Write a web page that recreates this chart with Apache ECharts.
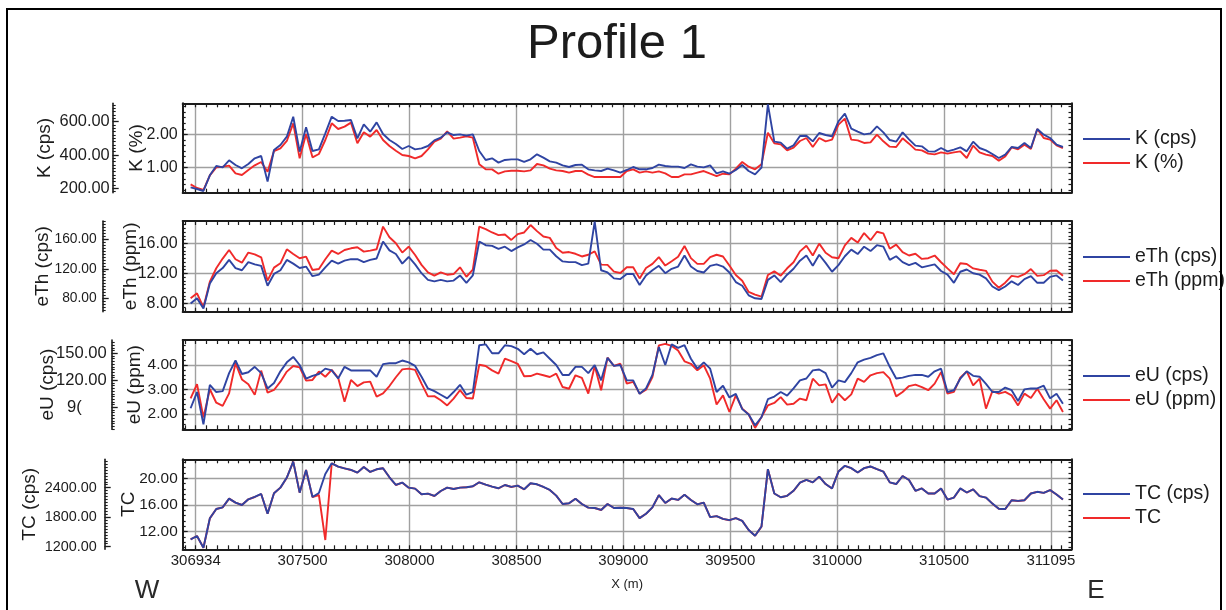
<!DOCTYPE html>
<html>
<head>
<meta charset="utf-8">
<script src="https://cdn.jsdelivr.net/npm/echarts@6/dist/echarts.min.js"></script>
<style>html,body{margin:0;padding:0;background:#fff}#chart{width:1226px;height:610px}</style>
</head>
<body>
<div id="chart"></div>
<script>
// ---------------- DATA ----------------
// survey stations along the profile (m), one every 30 m
const stationStart = 306976, stationStep = 30, stationCount = 137;
const stations = Array.from({length: stationCount}, (_, i) => stationStart + stationStep * i);

const kCps = [206,196,184,278,334,326,368,340,320,346,380,394,240,430,460,510,630,420,566,424,434,530,630,604,606,610,500,584,540,596,526,490,466,436,454,434,440,
454,488,504,536,520,524,516,524,424,370,380,354,370,374,374,358,374,404,384,362,354,338,328,340,342,314,308,304,318,308,294,310,328,314,314,322,342,334,330,330,322,344,330,326,338,290,302,288,310,340,304,284,324,704,480,474,438,458,514,
516,482,532,520,512,602,648,558,540,524,530,572,536,490,480,536,494,456,452,422,420,442,422,432,446,422,480,442,428,406,382,402,448,442,472,442,556,522,502,462,448];
const kPct = [0.50,0.39,0.33,0.77,1.01,1.03,1.06,0.83,0.78,0.93,1.07,1.17,0.88,1.50,1.58,1.80,2.33,1.28,2.01,1.31,1.41,1.83,2.33,2.16,2.23,2.35,1.73,2.06,1.93,2.13,1.83,1.65,1.51,1.38,1.35,1.28,1.35,
1.55,1.78,1.87,2.09,1.87,1.90,1.94,1.90,1.10,0.95,0.95,0.82,0.89,0.91,0.91,0.89,0.92,1.11,1.07,0.97,0.92,0.90,0.85,0.90,0.90,0.79,0.72,0.72,0.72,0.72,0.72,0.90,0.95,0.85,0.89,0.85,0.89,0.83,0.72,0.72,0.80,0.80,0.85,0.90,0.82,0.75,0.82,0.80,0.97,1.17,1.03,0.95,1.10,2.05,1.73,1.70,1.52,1.60,1.80,
1.89,1.62,1.89,1.79,1.84,2.29,2.47,1.84,1.82,1.74,1.76,1.99,1.79,1.63,1.62,1.88,1.72,1.54,1.52,1.42,1.40,1.46,1.42,1.46,1.49,1.29,1.66,1.46,1.39,1.35,1.21,1.34,1.61,1.55,1.69,1.56,2.16,1.89,1.84,1.67,1.59];

const eThCps = [73,80,66,100,114,121,132,121,118,129,126,124,97,113,118,132,127,121,123,110,112,122,131,127,131,133,133,129,132,134,157,145,140,127,136,126,
114,105,103,105,103,104,111,101,111,157,152,151,147,150,144,149,153,159,154,146,146,137,130,129,129,125,127,184,118,115,107,106,113,113,98,111,118,124,114,120,123,138,123,117,115,124,126,123,115,102,97,84,80,79,105,111,102,112,120,131,138,124,139,
128,116,125,137,146,140,150,144,152,150,132,137,129,125,128,122,124,126,117,112,101,116,119,114,112,107,96,91,96,103,98,106,110,101,101,109,111,104];
const eThPpm = [8.67,9.33,7.47,10.89,12.67,13.96,15.11,13.87,13.42,14.76,14.53,14.13,11.02,12.76,13.33,15.20,14.58,14.00,14.22,12.44,12.58,13.87,15.02,14.58,15.11,15.33,15.47,14.89,15.02,15.20,18.22,16.80,16.00,14.76,15.56,14.44,
13.12,12.13,11.68,12.13,11.81,11.90,12.80,11.54,12.49,18.21,17.89,17.44,17.08,17.17,16.45,17.22,17.44,18.43,17.62,16.90,16.72,15.37,14.74,14.83,14.60,14.24,14.47,14.92,13.16,13.12,12.22,12.04,12.80,12.80,11.32,12.71,13.25,14.15,13.03,13.61,14.20,15.64,14.02,13.25,13.25,14.15,14.47,14.24,13.03,11.77,11.00,9.51,9.15,8.88,11.77,12.26,11.68,12.67,13.48,14.92,15.68,14.38,15.95,
14.73,14.14,14.01,15.73,16.72,16.09,17.36,16.41,17.54,17.31,15.28,15.82,14.82,14.37,14.60,13.92,14.01,14.37,13.47,12.65,11.88,13.33,13.24,12.65,12.47,12.33,10.89,10.07,10.75,11.66,11.52,11.88,12.56,11.66,11.75,12.33,12.38,11.66];

const eUCps = [89,107,71,115,107,108,128,142,127,129,135,128,111,117,130,140,146,137,122,125,127,133,131,122,135,131,131,131,131,124,138,139,139,142,140,136,
124,111,108,104,100,107,115,104,107,159,160,150,150,159,158,155,149,155,149,151,144,137,126,126,135,135,128,137,120,145,136,137,120,120,105,111,126,157,137,160,156,159,144,133,140,133,107,114,101,105,88,82,70,79,99,102,107,103,111,120,122,131,132,
128,112,120,118,128,140,143,145,148,150,135,122,123,125,126,126,124,130,133,107,109,122,130,125,124,116,107,107,112,109,97,110,111,111,114,100,105,94];
const eUPpm = [2.64,3.22,1.86,3.01,2.46,2.33,2.84,4.07,3.41,3.21,2.78,3.77,2.87,2.98,3.32,3.73,3.96,3.90,3.36,3.39,3.73,3.52,3.80,3.48,2.50,3.39,3.14,3.29,3.32,2.71,2.84,3.14,3.50,3.82,3.85,3.80,
3.24,2.72,2.73,2.56,2.35,2.63,2.97,2.65,2.63,4.01,3.96,3.78,3.65,4.26,4.16,4.05,3.54,3.55,3.65,3.58,3.51,3.65,3.10,3.03,3.58,3.47,2.83,3.96,2.97,4.30,3.96,4.05,3.24,3.31,2.83,2.99,3.51,4.80,4.86,4.78,4.59,4.15,4.05,3.78,3.99,3.44,2.39,2.76,2.08,2.76,2.22,1.99,1.43,1.88,2.35,2.45,2.69,2.38,2.42,2.63,2.56,3.44,3.17,
3.21,2.46,2.83,2.56,2.80,3.44,3.31,3.58,3.67,3.71,3.44,2.72,2.90,3.14,3.20,3.10,2.97,3.24,3.71,2.83,2.90,3.48,3.74,3.17,3.44,2.22,2.93,2.83,2.90,2.76,2.35,2.83,2.65,3.03,2.60,2.22,2.56,2.08];

const tcCps = [1350,1418,1180,1777,1967,2001,2177,2096,2048,2164,2211,2272,1872,2286,2401,2605,2930,2299,2761,2211,2293,2679,2896,2828,2794,2761,2706,2822,2720,2774,2794,2611,2455,2503,2401,2381,2265,2279,2232,2333,2401,2374,2401,2408,2428,2510,2462,2421,2388,2455,2415,2442,2367,2489,2469,2415,2354,2238,2069,2082,2177,2069,1994,1987,1947,2069,1987,
1993,1986,1966,1781,1869,2001,2248,2089,2179,2151,2255,2151,2062,2096,1802,1822,1766,1739,1781,1725,1540,1423,1609,2777,2282,2206,2234,2337,2501,2557,2508,2625,2474,2385,2728,2845,2797,2708,2797,2831,2777,2728,2508,2474,2638,2557,2337,2385,2282,2282,2385,2158,2199,2385,2302,2364,2227,2199,2076,1972,1966,2145,2131,2145,2282,2316,2295,2351,2261,2158];
const tc = [10.85,11.35,9.60,14.00,15.40,15.65,16.95,16.35,16.00,16.85,17.20,17.65,14.70,17.75,18.60,20.10,22.50,17.85,21.25,17.20,17.50,10.75,22.25,21.75,21.50,21.25,20.85,21.70,20.95,21.35,21.50,20.15,19.00,19.35,18.60,18.45,17.60,17.70,17.35,18.10,18.60,18.40,18.60,18.65,18.80,19.40,19.05,18.75,18.50,19.00,18.70,18.90,18.35,19.25,19.10,18.70,18.25,17.40,16.15,16.25,16.95,16.15,15.60,15.55,15.25,16.15,15.55,
15.59,15.54,15.39,14.03,14.68,15.65,17.47,16.30,16.96,16.76,17.52,16.76,16.10,16.35,14.18,14.33,13.92,13.72,14.03,13.62,12.25,11.39,12.76,21.37,17.72,17.16,17.37,18.13,19.34,19.75,19.39,20.25,19.14,18.48,21.01,21.87,21.52,20.86,21.52,21.77,21.37,21.01,19.39,19.14,20.35,19.75,18.13,18.48,17.72,17.72,18.48,16.81,17.11,18.48,17.87,18.33,17.32,17.11,16.20,15.44,15.39,16.71,16.61,16.71,17.72,17.97,17.82,18.23,17.57,16.81];

// tick labels
const xGridValues = [307000, 307500, 308000, 308500, 309000, 309500, 310000, 310500, 311000];
const xTickLabels = ['306934', '307500', '308000', '308500', '309000', '309500', '310000', '310500', '311095'];
const kPctTicks = [1, 2], kCpsTicks = [200, 400, 600];
const eThPpmTicks = [8, 12, 16], eThCpsTicks = [80, 120, 160];
const eUPpmTicks = [2, 3, 4], eUCpsTicks = [90, 120, 150];
const tcTicks = [12, 16, 20], tcCpsTicks = [1200, 1800, 2400];
const eUCpsTickText = ['9(', '120.00', '150.00'];   // the 90 label is clipped in the original

// ---------------- LAYOUT / STYLE ----------------
const FONT = "'Liberation Sans', Arial, Helvetica, sans-serif";
const BLUE = '#2f44a2', RED = '#f02a2a', GRIDC = '#a0a0a0', INK = '#1c1c1c';
const X_MIN = 306939, X_MAX = 311096;
const GRID_LEFT = 182.7, GRID_RIGHT = 1226 - 1071.5;

function steps(a, b, s) {
  const r = [];
  for (let k = Math.ceil(a / s - 1e-9); k * s <= b + 1e-9; k++) r.push(+(k * s).toFixed(6));
  return r;
}
const xMinor = steps(X_MIN, X_MAX, 50);

const panels = [
  { top: 103.3, height: 89.4, legendTop: 129,
    inner: { min: 0.25, max: 2.93, ticks: kPctTicks, minor: 1 / 6, name: 'K (%)', gap: 36, font: 16 },
    outer: { min: 173.6, max: 710.5, ticks: kCpsTicks, minor: 20, name: 'K (cps)', gap: 58, offset: 70, margin: 3, font: 16.4 },
    blueName: 'K (cps)', redName: 'K (%)', blue: kCps, red: kPct },
  { top: 221, height: 90.7, legendTop: 247,
    inner: { min: 6.88, max: 18.97, ticks: eThPpmTicks, minor: 0.5, name: 'eTh (ppm)', gap: 42, font: 16 },
    outer: { min: 61.8, max: 184.8, ticks: eThCpsTicks, minor: 4, name: 'eTh (cps)', gap: 50, offset: 80, margin: 6, font: 13.8 },
    blueName: 'eTh (cps)', redName: 'eTh (ppm)', blue: eThCps, red: eThPpm },
  { top: 340, height: 89.3, legendTop: 366,
    inner: { min: 1.375, max: 5.02, ticks: eUPpmTicks, minor: 0.2, name: 'eU (ppm)', gap: 38, font: 15.5 },
    outer: { min: 65.6, max: 164.8, ticks: eUCpsTicks, minor: 3, name: 'eU (cps)', gap: 54, offset: 71, margin: 5, font: 16.6, text: eUCpsTickText },
    blueName: 'eU (cps)', redName: 'eU (ppm)', blue: eUCps, red: eUPpm },
  { top: 459.3, height: 90, legendTop: 484,
    inner: { min: 9.36, max: 22.85, ticks: tcTicks, minor: 0.8, name: 'TC', gap: 44, font: 15.4 },
    outer: { min: 1147, max: 2977, ticks: tcCpsTicks, minor: 60, name: 'TC (cps)', gap: 65, offset: 78, margin: 8, font: 14.4 },
    blueName: 'TC (cps)', redName: 'TC', blue: tcCps, red: tc }
];

const grids = [], xAxes = [], yAxes = [], series = [], legends = [];
const lineInk = w => ({ show: true, onZero: false, lineStyle: { color: INK, width: w } });
const nameStyle = { color: INK, fontSize: 19, fontFamily: FONT };

function outerLabel(p) {
  return function (v) {
    const idx = p.outer.ticks.findIndex(t => Math.abs(t - Number(v)) < 1e-6);
    if (p.outer.text && idx >= 0 && p.outer.text[idx] === '9(') return '{c|9(}';
    return Number(v).toFixed(2);
  };
}

panels.forEach((p, k) => {
  grids.push({ left: GRID_LEFT, right: GRID_RIGHT, top: p.top, height: p.height, containLabel: false, outerBoundsMode: 'none' });
  const xBase = { gridIndex: k, type: 'value', min: X_MIN, max: X_MAX };
  xAxes.push(
    Object.assign({}, xBase, {
      position: 'bottom', axisLine: lineInk(2),
      axisTick: { show: true, inside: true, length: 4, customValues: xMinor, lineStyle: { color: INK, width: 1.2 } },
      axisLabel: { show: k === 3, customValues: xGridValues, margin: 4, color: INK, fontSize: 15, fontFamily: FONT,
        formatter: v => xTickLabels[xGridValues.indexOf(v)] },
      splitLine: { show: false },
      name: k === 3 ? 'X (m)' : '', nameLocation: 'middle', nameGap: 29, nameMoveOverlap: false,
      nameTextStyle: { color: INK, fontSize: 13, fontFamily: FONT }
    }),
    Object.assign({}, xBase, {
      position: 'top', axisLine: lineInk(2),
      axisTick: { show: true, inside: true, length: 4, customValues: xMinor, lineStyle: { color: INK, width: 1.2 } },
      axisLabel: { show: false }, splitLine: { show: false }
    }),
    Object.assign({}, xBase, {
      position: 'bottom', axisLine: { show: false },
      axisTick: { show: false, customValues: xGridValues },
      axisLabel: { show: false },
      splitLine: { show: true, lineStyle: { color: GRIDC, width: 1.4 } }
    })
  );
  const inMin = steps(p.inner.min, p.inner.max, p.inner.minor);
  const outMin = steps(p.outer.min, p.outer.max, p.outer.minor);
  const iBase = { gridIndex: k, type: 'value', min: p.inner.min, max: p.inner.max };
  const oBase = { gridIndex: k, type: 'value', min: p.outer.min, max: p.outer.max, position: 'left', offset: p.outer.offset };
  yAxes.push(
    Object.assign({}, iBase, {
      position: 'left', axisLine: lineInk(2),
      axisTick: { show: true, inside: true, length: 5, customValues: p.inner.ticks, lineStyle: { color: INK, width: 1.2 } },
      axisLabel: { customValues: p.inner.ticks, margin: 5, formatter: v => Number(v).toFixed(2),
        color: INK, fontSize: p.inner.font, fontFamily: FONT },
      splitLine: { show: true, lineStyle: { color: GRIDC, width: 1.4 } },
      name: p.inner.name, nameLocation: 'middle', nameGap: p.inner.gap, nameMoveOverlap: false, nameTextStyle: nameStyle
    }),
    Object.assign({}, iBase, {
      position: 'left', offset: 0, axisLine: { show: false },
      axisTick: { show: true, inside: true, length: 3, customValues: inMin, lineStyle: { color: INK, width: 1.2 } },
      axisLabel: { show: false }, splitLine: { show: false }
    }),
    Object.assign({}, iBase, {
      position: 'right', axisLine: lineInk(2),
      axisTick: { show: true, inside: true, length: 3, customValues: inMin, lineStyle: { color: INK, width: 1.2 } },
      axisLabel: { show: false }, splitLine: { show: false }
    }),
    Object.assign({}, oBase, {
      axisLine: lineInk(1.6),
      axisTick: { show: true, inside: true, length: 3, customValues: outMin, lineStyle: { color: INK, width: 1.1 } },
      axisLabel: { customValues: p.outer.ticks, margin: p.outer.margin,
        color: INK, fontSize: p.outer.font, fontFamily: FONT,
        formatter: outerLabel(p),
        rich: { c: { fontSize: p.outer.font, fontFamily: FONT, color: INK, padding: [0, 25, 0, 0] } } },
      splitLine: { show: false },
      name: p.outer.name, nameLocation: 'middle', nameGap: p.outer.gap, nameMoveOverlap: false, nameTextStyle: nameStyle
    }),
    Object.assign({}, oBase, {
      axisLine: { show: false },
      axisTick: { show: true, inside: true, length: 6, customValues: p.outer.ticks, lineStyle: { color: INK, width: 1.3 } },
      axisLabel: { show: false }, splitLine: { show: false }
    })
  );
  series.push(
    { type: 'line', name: p.redName, xAxisIndex: 3 * k, yAxisIndex: 5 * k,
      data: stations.map((x, i) => [x, p.red[i]]), showSymbol: false, symbol: 'none',
      lineStyle: { color: RED, width: 1.9 }, itemStyle: { color: RED }, z: 3 },
    { type: 'line', name: p.blueName, xAxisIndex: 3 * k, yAxisIndex: 5 * k + 3,
      data: stations.map((x, i) => [x, p.blue[i]]), showSymbol: false, symbol: 'none',
      lineStyle: { color: BLUE, width: 1.9 }, itemStyle: { color: BLUE }, z: 4 }
  );
  legends.push({
    data: [p.blueName, p.redName], orient: 'vertical', left: 1083, top: p.legendTop, padding: 0,
    icon: 'rect', itemWidth: 47, itemHeight: 2, itemGap: 4, selectedMode: false,
    textStyle: { color: INK, fontSize: 19.5, fontFamily: FONT }
  });
});

const chart = echarts.init(document.getElementById('chart'), null, { renderer: 'canvas' });
chart.setOption({
  animation: false,
  backgroundColor: '#ffffff',
  title: { text: 'Profile 1', left: 617, textAlign: 'center', top: 20, padding: 0,
    textStyle: { fontSize: 49, fontWeight: 'normal', color: INK, fontFamily: FONT } },
  legend: legends,
  grid: grids,
  xAxis: xAxes,
  yAxis: yAxes,
  series: series,
  graphic: [
    { type: 'rect', shape: { x: 7, y: 9, width: 1214, height: 615 }, style: { fill: 'none', stroke: '#000', lineWidth: 2 }, silent: true, z: 100 },
    { type: 'text', x: 147, y: 591, style: { text: 'W', fontSize: 26, fontFamily: FONT, fill: '#2a2a2a', align: 'center', verticalAlign: 'middle' } },
    { type: 'text', x: 1096, y: 591, style: { text: 'E', fontSize: 26, fontFamily: FONT, fill: '#2a2a2a', align: 'center', verticalAlign: 'middle' } }
  ]
});
</script>
</body>
</html>
